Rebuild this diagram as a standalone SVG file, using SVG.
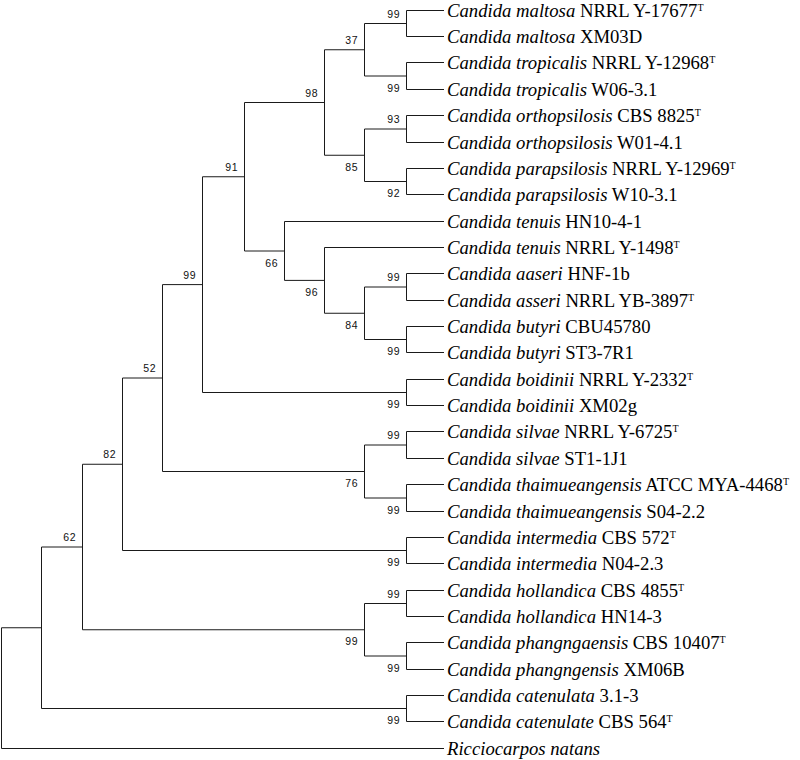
<svg xmlns="http://www.w3.org/2000/svg" width="800" height="760" viewBox="0 0 800 760">
<style>
.br{fill:none;stroke:#1a1a1a;stroke-width:1}
.lf{font-family:"Liberation Serif","Times New Roman",serif;font-size:18.7px;fill:#000}
.lf .sp{font-style:italic}
.lf .t{font-size:10px}
.bs{font-family:"Liberation Sans",Arial,sans-serif;font-size:10.5px;fill:#111;text-anchor:end;letter-spacing:0.8px}
</style>
<rect width="800" height="760" fill="#fff"/>
<g id="connectors">
<path class="br" d="M444 10.5H406.5V36.5H444"/>
<path class="br" d="M444 62.5H406.5V89.5H444"/>
<path class="br" d="M406.5 23.5H364.5V76H406.5"/>
<path class="br" d="M444 115.5H406.5V142.5H444"/>
<path class="br" d="M444 168.5H406.5V194.5H444"/>
<path class="br" d="M406.5 129H364.5V181.5H406.5"/>
<path class="br" d="M364.5 49.75H324.5V155.25H364.5"/>
<path class="br" d="M444 273.5H406.5V300.5H444"/>
<path class="br" d="M444 326.5H406.5V352.5H444"/>
<path class="br" d="M406.5 287H364.5V339.5H406.5"/>
<path class="br" d="M444 247.5H324.5V313.25H364.5"/>
<path class="br" d="M444 221.5H284.5V280.4H324.5"/>
<path class="br" d="M324.5 102.5H244.5V251H284.5"/>
<path class="br" d="M444 379.5H406.5V405.5H444"/>
<path class="br" d="M244.5 176.75H202.5V392.5H406.5"/>
<path class="br" d="M444 431.5H406.5V458.5H444"/>
<path class="br" d="M444 484.5H406.5V511.5H444"/>
<path class="br" d="M406.5 445H364.5V498H406.5"/>
<path class="br" d="M202.5 284.6H162.5V471.5H364.5"/>
<path class="br" d="M444 537.5H406.5V563.5H444"/>
<path class="br" d="M162.5 378H122.5V550.5H406.5"/>
<path class="br" d="M444 590.5H406.5V616.5H444"/>
<path class="br" d="M444 642.5H406.5V669.5H444"/>
<path class="br" d="M406.5 603.5H364.5V656H406.5"/>
<path class="br" d="M122.5 464.25H82.5V629.75H364.5"/>
<path class="br" d="M444 695.5H406.5V721.5H444"/>
<path class="br" d="M82.5 547H41.5V708.5H406.5"/>
<path class="br" d="M41.5 627.75H1.5V748.5H444"/>
</g>
<g id="support">
<text class="bs" x="400.5" y="17.5">99</text>
<text class="bs" x="358.5" y="43.75">37</text>
<text class="bs" x="318.5" y="96.5">98</text>
<text class="bs" x="400.5" y="91.5">99</text>
<text class="bs" x="400.5" y="123">93</text>
<text class="bs" x="358.5" y="170.75">85</text>
<text class="bs" x="400.5" y="197">92</text>
<text class="bs" x="238.5" y="170.75">91</text>
<text class="bs" x="278.5" y="266.5">66</text>
<text class="bs" x="318.5" y="296">96</text>
<text class="bs" x="400.5" y="281">99</text>
<text class="bs" x="358.5" y="329">84</text>
<text class="bs" x="400.5" y="355">99</text>
<text class="bs" x="196.5" y="278.6">99</text>
<text class="bs" x="400.5" y="408">99</text>
<text class="bs" x="400.5" y="439">99</text>
<text class="bs" x="358.5" y="487">76</text>
<text class="bs" x="400.5" y="513.5">99</text>
<text class="bs" x="156.5" y="372">52</text>
<text class="bs" x="116.5" y="458.25">82</text>
<text class="bs" x="400.5" y="566">99</text>
<text class="bs" x="76.5" y="541">62</text>
<text class="bs" x="400.5" y="597.5">99</text>
<text class="bs" x="358.5" y="645.25">99</text>
<text class="bs" x="400.5" y="671.5">99</text>
<text class="bs" x="400.5" y="724">99</text>
</g>
<g id="leaf1"><text class="lf" x="447" y="16.5"><tspan class="sp">Candida maltosa</tspan> NRRL Y-17677<tspan class="t" dy="-6">T</tspan></text></g>
<g id="leaf2"><text class="lf" x="447" y="42.5"><tspan class="sp">Candida maltosa</tspan> XM03D</text></g>
<g id="leaf3"><text class="lf" x="447" y="68.5"><tspan class="sp">Candida tropicalis</tspan> NRRL Y-12968<tspan class="t" dy="-6">T</tspan></text></g>
<g id="leaf4"><text class="lf" x="447" y="95.5"><tspan class="sp">Candida tropicalis</tspan> W06-3.1</text></g>
<g id="leaf5"><text class="lf" x="447" y="121.5"><tspan class="sp">Candida orthopsilosis</tspan> CBS 8825<tspan class="t" dy="-6">T</tspan></text></g>
<g id="leaf6"><text class="lf" x="447" y="148.5"><tspan class="sp">Candida orthopsilosis</tspan> W01-4.1</text></g>
<g id="leaf7"><text class="lf" x="447" y="174.5"><tspan class="sp">Candida parapsilosis</tspan> NRRL Y-12969<tspan class="t" dy="-6">T</tspan></text></g>
<g id="leaf8"><text class="lf" x="447" y="200.5"><tspan class="sp">Candida parapsilosis</tspan> W10-3.1</text></g>
<g id="leaf9"><text class="lf" x="447" y="227.5"><tspan class="sp">Candida tenuis</tspan> HN10-4-1</text></g>
<g id="leaf10"><text class="lf" x="447" y="253.5"><tspan class="sp">Candida tenuis</tspan> NRRL Y-1498<tspan class="t" dy="-6">T</tspan></text></g>
<g id="leaf11"><text class="lf" x="447" y="279.5"><tspan class="sp">Candida aaseri</tspan> HNF-1b</text></g>
<g id="leaf12"><text class="lf" x="447" y="306.5"><tspan class="sp">Candida asseri</tspan> NRRL YB-3897<tspan class="t" dy="-6">T</tspan></text></g>
<g id="leaf13"><text class="lf" x="447" y="332.5"><tspan class="sp">Candida butyri</tspan> CBU45780</text></g>
<g id="leaf14"><text class="lf" x="447" y="358.5"><tspan class="sp">Candida butyri</tspan> ST3-7R1</text></g>
<g id="leaf15"><text class="lf" x="447" y="385.5"><tspan class="sp">Candida boidinii</tspan> NRRL Y-2332<tspan class="t" dy="-6">T</tspan></text></g>
<g id="leaf16"><text class="lf" x="447" y="411.5"><tspan class="sp">Candida boidinii</tspan> XM02g</text></g>
<g id="leaf17"><text class="lf" x="447" y="437.5"><tspan class="sp">Candida silvae</tspan> NRRL Y-6725<tspan class="t" dy="-6">T</tspan></text></g>
<g id="leaf18"><text class="lf" x="447" y="464.5"><tspan class="sp">Candida silvae</tspan> ST1-1J1</text></g>
<g id="leaf19"><text class="lf" x="447" y="490.5"><tspan class="sp">Candida thaimueangensis</tspan> ATCC MYA-4468<tspan class="t" dy="-6">T</tspan></text></g>
<g id="leaf20"><text class="lf" x="447" y="517.5"><tspan class="sp">Candida thaimueangensis</tspan> S04-2.2</text></g>
<g id="leaf21"><text class="lf" x="447" y="543.5"><tspan class="sp">Candida intermedia</tspan> CBS 572<tspan class="t" dy="-6">T</tspan></text></g>
<g id="leaf22"><text class="lf" x="447" y="569.5"><tspan class="sp">Candida intermedia</tspan> N04-2.3</text></g>
<g id="leaf23"><text class="lf" x="447" y="596.5"><tspan class="sp">Candida hollandica</tspan> CBS 4855<tspan class="t" dy="-6">T</tspan></text></g>
<g id="leaf24"><text class="lf" x="447" y="622.5"><tspan class="sp">Candida hollandica</tspan> HN14-3</text></g>
<g id="leaf25"><text class="lf" x="447" y="648.5"><tspan class="sp">Candida phangngaensis</tspan> CBS 10407<tspan class="t" dy="-6">T</tspan></text></g>
<g id="leaf26"><text class="lf" x="447" y="675.5"><tspan class="sp">Candida phangngensis</tspan> XM06B</text></g>
<g id="leaf27"><text class="lf" x="447" y="701.5"><tspan class="sp">Candida catenulata</tspan> 3.1-3</text></g>
<g id="leaf28"><text class="lf" x="447" y="727.5"><tspan class="sp">Candida catenulate</tspan> CBS 564<tspan class="t" dy="-6">T</tspan></text></g>
<g id="leaf29"><text class="lf" x="447" y="754.5"><tspan class="sp">Ricciocarpos natans</tspan></text></g>
</svg>
